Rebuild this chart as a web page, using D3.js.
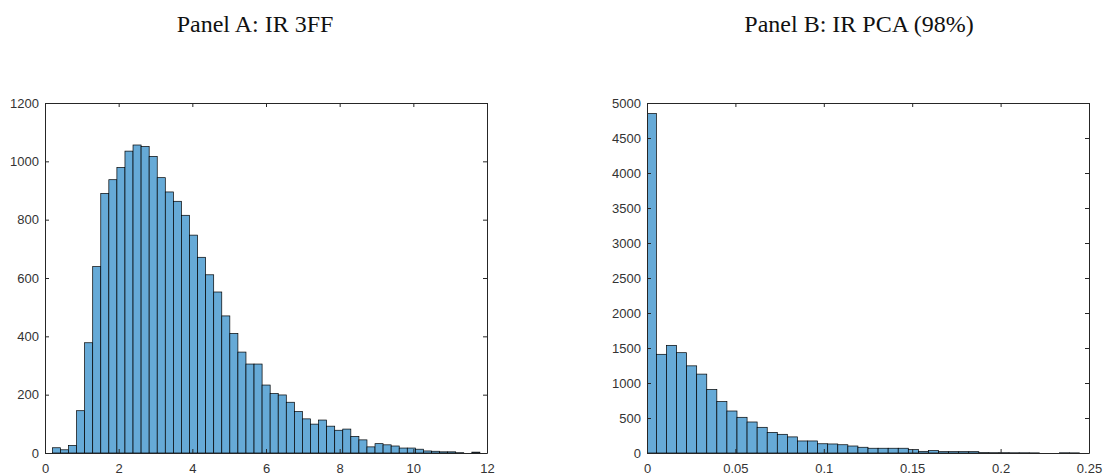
<!DOCTYPE html>
<html>
  <head>
    <meta charset="utf-8">
    <title>IR histograms</title>
    <script src="https://cdn.jsdelivr.net/npm/d3@7"></script>
    <style>
      body { margin: 0; background: #fff; }
      #chart { display: block; }
      .title { font-family: "Liberation Serif", "Times New Roman", serif; font-size: 24px; fill: #111; }
      .axis text { font-family: "Liberation Sans", Arial, sans-serif; font-size: 13px; fill: #333; }
      .axis path, .axis line { stroke: #262626; stroke-width: 1; }
      .bar { fill: rgb(102, 170, 215); stroke: #000; stroke-width: 0.7; }
    </style>
  </head>

  <body>
    <svg id="chart" width="1105" height="475"></svg>

    <script>
      // panel A: IR 3FF, bins start at 0.2, width 0.219
      const countsA = [18, 11, 26, 145, 378, 639, 890, 937, 979, 1035,
                       1056, 1051, 1017, 944, 895, 863, 815, 747, 671, 611,
                       552, 470, 410, 346, 305, 305, 233, 204, 199, 174,
                       142, 117, 99, 113, 92, 78, 82, 57, 45, 21,
                       32, 28, 24, 17, 17, 13, 7, 6, 4, 4,
                       1, 0, 3];
      const binStartA = 0.2;
      const binWidthA = 0.219;
      const xTicksA = [0, 2, 4, 6, 8, 10, 12];
      const yTicksA = [0, 200, 400, 600, 800, 1000, 1200];

      // panel B: IR PCA (98%), bins start just below 0, width 0.0057
      const countsB = [4850, 1410, 1538, 1433, 1245, 1127, 908, 735, 600, 510,
                       443, 367, 295, 267, 230, 172, 172, 132, 129, 118,
                       100, 82, 68, 68, 68, 68, 48, 24, 35, 19,
                       19, 19, 19, 5, 4, 4, 3, 3, 2, 0,
                       0, 3, 2];
      const binStartB = -0.0004;
      const binWidthB = 0.0057;
      const xTicksB = [0, 0.05, 0.1, 0.15, 0.2, 0.25];
      const yTicksB = [0, 500, 1000, 1500, 2000, 2500, 3000, 3500, 4000, 4500, 5000];

      const titles = ["Panel A: IR 3FF", "Panel B: IR PCA (98%)"];

      chart = d3.select("#chart");
      top_ = 103;
      bottom = 453;
      tick = 4;
      plain = d3.format("");

      function drawPanel(id, title, titleX, left, right, counts, start, width, xTicks, yTicks) {
        bins = counts.map((c, i) => ({x0: start + i * width, x1: start + (i + 1) * width, n: c}));

        x = d3.scaleLinear()
            .domain([xTicks[0], xTicks[xTicks.length - 1]])
            .range([left, right]);
        y = d3.scaleLinear()
            .domain([yTicks[0], yTicks[yTicks.length - 1]])
            .range([bottom, top_]);

        g = chart.append("g");

        g.append("text")
            .attr("class", "title")
            .attr("x", titleX)
            .attr("y", 32)
            .attr("text-anchor", "middle")
            .text(title);

        g.append("clipPath")
            .attr("id", "clip" + id)
          .append("rect")
            .attr("x", left)
            .attr("y", top_)
            .attr("width", right - left)
            .attr("height", bottom - top_);

        g.append("g")
            .attr("clip-path", "url(#clip" + id + ")")
          .selectAll("rect")
          .data(bins.filter(d => d.n > 0))
          .join("rect")
            .attr("class", "bar")
            .attr("x", d => x(d.x0))
            .attr("y", d => y(d.n))
            .attr("width", d => x(d.x1) - x(d.x0))
            .attr("height", d => y(0) - y(d.n));

        // axes, ticks pointing inwards on all four sides
        g.append("g")
            .attr("class", "axis")
            .attr("transform", "translate(0," + bottom + ")")
            .call(d3.axisBottom(x).tickValues(xTicks).tickFormat(plain).tickSizeInner(-tick).tickSizeOuter(0).tickPadding(11));
        g.append("g")
            .attr("class", "axis")
            .attr("transform", "translate(" + left + ",0)")
            .call(d3.axisLeft(y).tickValues(yTicks).tickFormat(plain).tickSizeInner(-tick).tickSizeOuter(0).tickPadding(6));
        g.append("g")
            .attr("class", "axis")
            .attr("transform", "translate(0," + top_ + ")")
            .call(d3.axisTop(x).tickValues(xTicks).tickFormat("").tickSizeInner(-tick).tickSizeOuter(0));
        g.append("g")
            .attr("class", "axis")
            .attr("transform", "translate(" + right + ",0)")
            .call(d3.axisRight(y).tickValues(yTicks).tickFormat("").tickSizeInner(-tick).tickSizeOuter(0));
      }

      drawPanel("A", titles[0], 255, 45, 487, countsA, binStartA, binWidthA, xTicksA, yTicksA);
      drawPanel("B", titles[1], 859, 647, 1089, countsB, binStartB, binWidthB, xTicksB, yTicksB);
    </script>
  </body>
</html>
